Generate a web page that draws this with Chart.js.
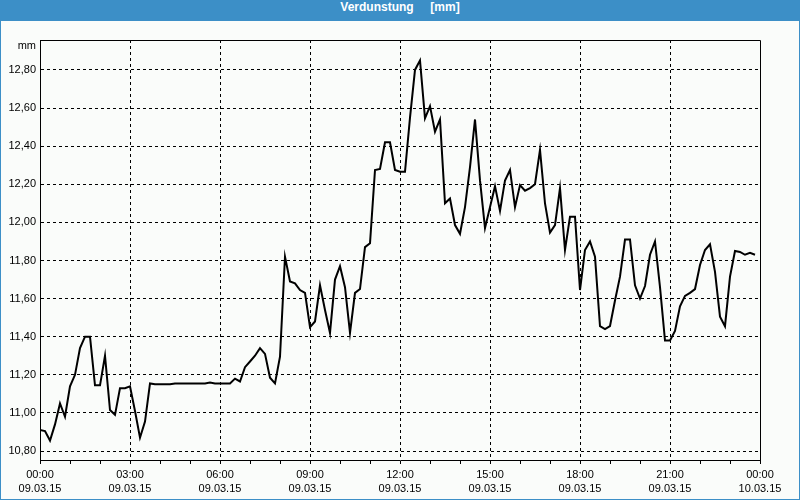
<!DOCTYPE html>
<html>
<head>
<meta charset="utf-8">
<script src="https://cdn.jsdelivr.net/npm/chart.js@4.4.1/dist/chart.umd.min.js"></script>
<style>
html,body{margin:0;padding:0;}
body{width:800px;height:500px;background:#3c8fc7;position:relative;overflow:hidden;}
#title{position:absolute;left:0;top:0;width:800px;height:21px;line-height:21px;text-align:center;color:#fff;font:bold 12px "Liberation Sans",Arial,sans-serif;white-space:pre;}
#inner{position:absolute;left:1px;top:21px;width:798px;height:478px;background:#fafcfa;}
#wrap{position:absolute;left:0;top:0;width:800px;height:500px;}
</style>
</head>
<body>
<div id="title">Verdunstung     [mm]</div>
<div id="inner"></div>
<div id="wrap"><canvas id="c" width="800" height="500"></canvas></div>
<script>
// ---- data ----
const startDate = '09.03.15';
const stepMinutes = 10;           // one reading every 10 minutes
const evaporation = [
 10.91, 10.905, 10.855, 10.94, 11.05, 10.98, 11.14, 11.20, 11.34, 11.40,
 11.40, 11.145, 11.145, 11.30, 11.015, 10.99, 11.13, 11.13, 11.14, 11.01,
 10.87, 10.955, 11.155, 11.15, 11.15, 11.15, 11.15, 11.155, 11.155, 11.155,
 11.155, 11.155, 11.155, 11.155, 11.16, 11.155, 11.155, 11.155, 11.155, 11.18,
 11.165, 11.24, 11.27, 11.30, 11.34, 11.31, 11.185, 11.155, 11.295, 11.82,
 11.69, 11.68, 11.645, 11.63, 11.45, 11.48, 11.67, 11.54, 11.42, 11.70,
 11.77, 11.66, 11.42, 11.63, 11.65, 11.87, 11.89, 12.275, 12.28, 12.42,
 12.42, 12.275, 12.266, 12.266, 12.55, 12.80, 12.85, 12.546, 12.61, 12.476,
 12.54, 12.10, 12.125, 11.986, 11.94, 12.08, 12.29, 12.54, 12.22, 11.97,
 12.08, 12.19, 12.06, 12.22, 12.275, 12.08, 12.196, 12.166, 12.18, 12.20,
 12.38, 12.10, 11.946, 11.986, 12.18, 11.855, 12.03, 12.03, 11.645, 11.855,
 11.90, 11.82, 11.455, 11.44, 11.456, 11.59, 11.715, 11.91, 11.91, 11.67,
 11.60, 11.666, 11.83, 11.90, 11.66, 11.38, 11.38, 11.43, 11.56, 11.614,
 11.63, 11.65, 11.776, 11.855, 11.885, 11.74, 11.505, 11.455, 11.715, 11.85,
 11.845, 11.83, 11.84, 11.83
];
const xTickTimes = ['00:00','03:00','06:00','09:00','12:00','15:00','18:00','21:00','00:00'];
const xTickDates = ['09.03.15','09.03.15','09.03.15','09.03.15','09.03.15','09.03.15','09.03.15','09.03.15','10.03.15'];
const yTicks = [10.8, 11.0, 11.2, 11.4, 11.6, 11.8, 12.0, 12.2, 12.4, 12.6, 12.8];
const yUnit = 'mm';

const points = evaporation.map((v, i) => ({x: i * stepMinutes, y: v}));
const FONT = '"Liberation Sans", Arial, sans-serif';

const framePlugin = {
  id: 'frame',
  afterDraw(chart) {
    const {ctx, chartArea: a} = chart;
    ctx.save();
    ctx.strokeStyle = '#000';
    ctx.lineWidth = 1;
    ctx.setLineDash([]);
    const t = Math.round(a.top) + 0.5, r = Math.round(a.right) + 0.5;
    ctx.beginPath();
    ctx.moveTo(Math.round(a.left), t);
    ctx.lineTo(r, t);
    ctx.lineTo(r, Math.round(a.bottom) + 0.5);
    ctx.stroke();
    ctx.fillStyle = '#000';
    ctx.font = '11px ' + FONT;
    ctx.textAlign = 'right';
    ctx.textBaseline = 'middle';
    ctx.fillText(yUnit, 36, 46);
    ctx.restore();
  }
};

new Chart(document.getElementById('c'), {
  type: 'line',
  data: { datasets: [{
    data: points,
    borderColor: '#000',
    borderWidth: 2,
    pointRadius: 0,
    tension: 0,
    fill: false
  }]},
  options: {
    responsive: false,
    animation: false,
    layout: { padding: { top: 40, right: 40, left: 0, bottom: 0 } },
    plugins: { legend: { display: false }, tooltip: { enabled: false } },
    scales: {
      x: {
        type: 'linear',
        min: 0, max: 1440,
        afterBuildTicks: s => { const t = []; for (let m = 0; m <= 1440; m += 60) t.push({value: m}); s.ticks = t; },
        afterFit: s => { s.height = 40; },
        ticks: {
          autoSkip: false, maxRotation: 0, minRotation: 0,
          color: '#000', padding: 4,
          font: { family: FONT, size: 11, lineHeight: 1.3 },
          callback: v => (v % 180 === 0) ? [xTickTimes[v / 180], xTickDates[v / 180]] : ''
        },
        grid: {
          color: c => (c.tick && c.tick.value % 180 === 0 && c.tick.value > 0 && c.tick.value < 1440) ? '#000' : 'rgba(0,0,0,0)',
          tickColor: '#000',
          tickLength: 4,
          lineWidth: 1
        },
        border: { display: true, color: '#000', width: 1, dash: [3, 3] }
      },
      y: {
        type: 'linear',
        min: 10.753, max: 12.957,
        afterBuildTicks: s => { s.ticks = yTicks.map(v => ({value: v})); },
        afterFit: s => { s.width = 40; },
        ticks: {
          color: '#000', padding: 4,
          font: { family: FONT, size: 11 },
          callback: v => Number(v).toFixed(2).replace('.', ',')
        },
        grid: { color: '#000', drawTicks: false, lineWidth: 1 },
        border: { display: true, color: '#000', width: 1, dash: [3, 3] }
      }
    }
  },
  plugins: [framePlugin]
});
</script>
</body>
</html>
